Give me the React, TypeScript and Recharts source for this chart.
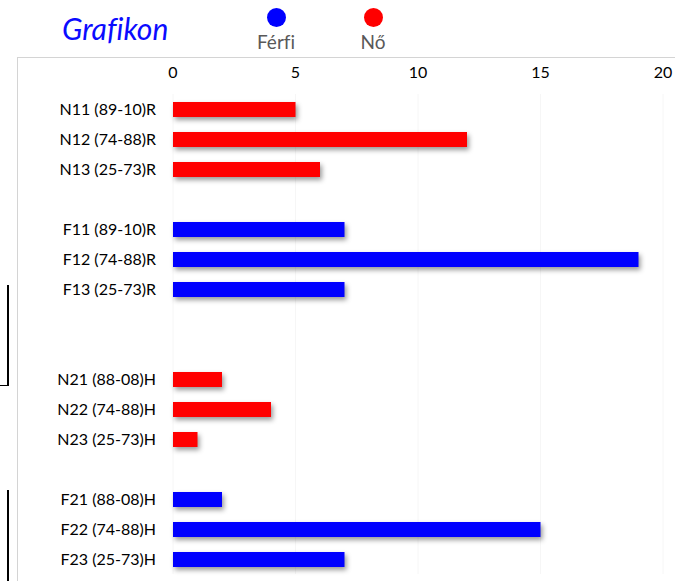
import React from "react";
import { BarChart, Bar, XAxis, YAxis, CartesianGrid } from "recharts";

const categories = [
  "N11 (89-10)R", "N12 (74-88)R", "N13 (25-73)R", "",
  "F11 (89-10)R", "F12 (74-88)R", "F13 (25-73)R", "", "",
  "N21 (88-08)H", "N22 (74-88)H", "N23 (25-73)H", "",
  "F21 (88-08)H", "F22 (74-88)H", "F23 (25-73)H",
];
const ferfiValues: (number | null)[] = [
  null, null, null, null,
  7, 19, 7, null, null,
  null, null, null, null,
  2, 15, 7,
];
const noValues: (number | null)[] = [
  5, 12, 6, null,
  null, null, null, null, null,
  2, 4, 1, null,
  null, null, null,
];
const xTicks = [0, 5, 10, 15, 20];
const seriesNames = ["Férfi", "Nő"];
const seriesColors = ["#0000ff", "#ff0000"];

const data = categories.map((c, i) => ({
  key: `k${i}`,
  label: c,
  ferfi: ferfiValues[i],
  no: noValues[i],
}));

const FONT = "Lato, 'Open Sans', sans-serif";

const ShadowBar = (props: any) => {
  const { x, y, width, height, fill } = props;
  if (!width || width <= 0) return null;
  return (
    <rect
      x={x}
      y={y}
      width={width}
      height={height}
      fill={fill}
      style={{ filter: "drop-shadow(2px 3px 2.5px rgba(0,0,0,0.4))" }}
    />
  );
};

const LegendBox = () => (
  <div style={{ position: "absolute", left: 246, top: 0, width: 200, height: 56 }}>
    {seriesNames.map((n, i) => (
      <div
        key={n}
        style={{
          position: "absolute",
          left: i * 97,
          top: 0,
          width: 60,
          textAlign: "center",
        }}
      >
        <div
          style={{
            width: 19,
            height: 19,
            borderRadius: "50%",
            background: seriesColors[i],
            margin: "8px auto 0",
          }}
        />
        <div
          style={{
            fontFamily: FONT,
            fontSize: 19,
            color: "#595959",
            lineHeight: "22px",
            marginTop: 4,
            fontVariantLigatures: "none",
          }}
        >
          {n}
        </div>
      </div>
    ))}
  </div>
);

export default function App() {
  return (
    <div
      style={{
        position: "absolute",
        left: 0,
        top: 0,
        width: 675,
        height: 581,
        overflow: "hidden",
        background: "#fff",
      }}
    >
      <div
        style={{
          position: "absolute",
          left: 17,
          top: 57,
          width: 700,
          height: 600,
          borderTop: "1.5px solid #d4d4d4",
          borderLeft: "1.5px solid #d4d4d4",
        }}
      />
      <div
        style={{
          position: "absolute",
          left: 62,
          top: 9,
          fontFamily: FONT,
          fontStyle: "italic",
          fontSize: 30,
          color: "#0b0bff",
          lineHeight: "38px",
          fontVariantLigatures: "none",
        }}
      >
        Grafikon
      </div>
      <LegendBox />
      <div style={{ position: "absolute", left: 7, top: 285, width: 1.5, height: 101, background: "#000" }} />
      <div style={{ position: "absolute", left: 0, top: 384.5, width: 8.5, height: 1.5, background: "#000" }} />
      <div style={{ position: "absolute", left: 7, top: 490, width: 1.5, height: 100, background: "#000" }} />
      <div style={{ position: "absolute", left: 0, top: 0 }}>
        <BarChart
          width={675}
          height={600}
          data={data}
          layout="vertical"
          margin={{ top: 64, right: 12, bottom: 26, left: 0 }}
          barSize={15}
        >
          <CartesianGrid horizontal={false} vertical={true} stroke="#f6f6f6" />
          <XAxis
            type="number"
            orientation="top"
            domain={[0, 20]}
            ticks={xTicks}
            axisLine={false}
            tickLine={false}
            tickSize={0}
            tickMargin={16}
            height={30}
            tick={{ fontFamily: FONT, fontSize: 16, fill: "#000" }}
          />
          <YAxis
            type="category"
            dataKey="key"
            width={173}
            axisLine={false}
            tickLine={false}
            tickSize={0}
            tickMargin={17}
            interval={0}
            tickFormatter={(v: string) => data.find((d) => d.key === v)?.label ?? ""}
            tick={{ fontFamily: FONT, fontSize: 16, fill: "#000" }}
          />
          <Bar dataKey="ferfi" name={seriesNames[0]} stackId="a" fill={seriesColors[0]} shape={<ShadowBar />} isAnimationActive={false} />
          <Bar dataKey="no" name={seriesNames[1]} stackId="a" fill={seriesColors[1]} shape={<ShadowBar />} isAnimationActive={false} />
        </BarChart>
      </div>
    </div>
  );
}
